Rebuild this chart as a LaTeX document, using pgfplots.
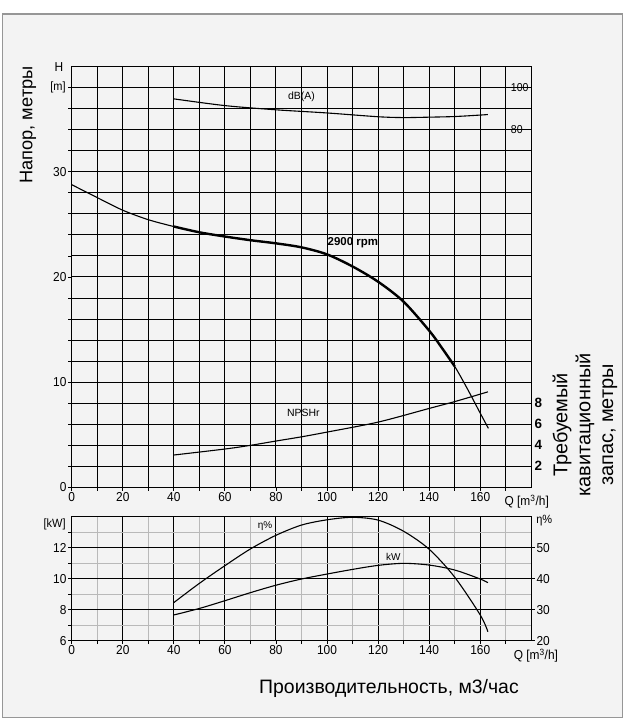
\documentclass[border=0pt]{standalone}
\usepackage{fontspec}
\setmainfont{Liberation Sans}
\newfontfamily\tickfont[FakeStretch=0.92]{Liberation Sans}
\usepackage{pgfplots}
\pgfplotsset{compat=1.18}
\definecolor{bgc}{RGB}{243,243,243}
\definecolor{framec}{RGB}{150,150,150}
\pgfplotsset{
  base/.style={scale only axis, anchor=south west, xmin=0, xmax=180,
    tick align=outside, major tick length=3.5bp, minor tick length=3.5bp,
    every tick/.style={black, line width=0.9bp},
    /pgf/number format/assume math mode=true,
    tick label style={font=\tickfont\fontsize{13}{13}\selectfont, inner sep=1.5bp},
    axis line style={black, line width=1bp},
  },
}
\begin{document}
\begin{tikzpicture}
\useasboundingbox (0,0) rectangle (624bp,721bp);
\fill[white] (0,0) rectangle (624bp,721bp);
\filldraw[fill=bgc, draw=framec, line width=1.2bp] (2.7bp,3.3bp) rectangle (622.7bp,707bp);

% ---------------- upper: head ----------------
\begin{axis}[base, at={(71.7bp,233.7bp)}, width=459.6bp, height=420.6bp,
  ymin=0, ymax=40,
  xtick={0,20,...,160}, minor xtick={10,30,...,170},
  ytick={0,10,20,30}, minor ytick={2,4,...,38},
  grid=both,
  major grid style={black, line width=1bp},
  minor grid style={black, line width=1bp},
  ytick pos=left, xtick pos=bottom, clip=false]
\addplot[black, line width=1.1bp, smooth] coordinates {
 (0,28.78) (10,27.55) (20,26.35) (30,25.45) (40,24.8) (50,24.25) (60,23.85)
 (70,23.5) (80,23.2) (90,22.82) (100,22.15) (110,21.0) (120,19.55)
 (130,17.65) (140,14.9) (145,13.25) (150,11.5) (155,9.35) (160,7.05) (163.2,5.6)};
\addplot[black, line width=2.4bp, smooth] coordinates {
 (40,24.8) (50,24.25) (60,23.85) (70,23.5) (80,23.2) (90,22.82) (100,22.15)
 (110,21.0) (120,19.55) (130,17.65) (140,14.9) (145,13.25) (150,11.5)};
\node[font=\fontsize{10.5}{11}\selectfont] at (axis cs:90,37.1) {dB(A)};
\node[font=\bfseries\fontsize{11.5}{12}\selectfont] at (axis cs:110.1,23.3) {2900 rpm};
\node[font=\fontsize{10.5}{11}\selectfont] at (axis cs:90.7,7.03) {NPSHr};
\node[anchor=east, xshift=-5bp, font=\tickfont\fontsize{13}{13}\selectfont] at (rel axis cs:0,1) {H};
\node[anchor=east, xshift=-2.5bp, font=\tickfont\fontsize{12}{12}\selectfont] at (rel axis cs:0,0.95) {[m]};
\node[anchor=north, yshift=-4.5bp, font=\tickfont\fontsize{13}{13}\selectfont] at (rel axis cs:0.99,0) {Q [m\textsuperscript{3}/h]};
\end{axis}

% ---------------- dB(A) scale ----------------
\begin{axis}[base, at={(71.7bp,233.7bp)}, width=434.07bp, height=420.6bp,
  xmin=0, xmax=170, ymin=-90, ymax=110,
  hide x axis, axis y line*=right, axis line style={draw=none},
  ytick={80,90,100}, yticklabels={80,,100},
  tick label style={font=\tickfont\fontsize{11.5}{12}\selectfont}]
\addplot[black, line width=1.1bp, smooth] coordinates {
 (40,94.7) (60,91.5) (80,89.5) (100,88) (120,86.2) (130,85.8) (140,86)
 (150,86.3) (160,87) (163,87.25)};
\end{axis}

% ---------------- NPSHr scale ----------------
\begin{axis}[base, at={(71.7bp,233.7bp)}, width=459.6bp, height=420.6bp,
  ymin=0, ymax=40,
  hide x axis, axis y line*=right, axis line style={draw=none},
  ytick={2,4,6,8}, major tick length=0pt,
  tick label style={font=\bfseries\fontsize{13.5}{14}\selectfont, inner sep=3bp}]
\addplot[black, line width=1.1bp, smooth] coordinates {
 (40,3.07) (60,3.64) (70,3.99) (80,4.4) (90,4.8) (100,5.25) (120,6.2)
 (140,7.5) (150,8.15) (160,8.86) (163,9.08)};
\end{axis}

% ---------------- lower: kW ----------------
\begin{axis}[base, at={(71.7bp,80.3bp)}, width=459.6bp, height=124bp,
  ymin=6, ymax=14,
  xtick={0,20,...,160}, minor xtick={10,30,...,170},
  ytick={6,8,10,12}, minor ytick={7,9,11,13},
  grid=both,
  major grid style={black, line width=1bp},
  minor grid style={gray!55, line width=1.1bp},
  ytick pos=left, xtick pos=bottom, clip=false]
\addplot[black, line width=1.1bp, smooth] coordinates {
 (40,7.66) (50,8.08) (60,8.58) (70,9.1) (80,9.58) (90,9.98) (100,10.3)
 (110,10.6) (120,10.86) (130,10.99) (140,10.88) (150,10.56) (160,9.98) (163,9.74)};
\node[font=\fontsize{10}{11}\selectfont] at (axis cs:75.7,13.4) {η\%};
\node[font=\fontsize{10}{11}\selectfont] at (axis cs:126,11.42) {kW};
\node[anchor=east, xshift=-2.5bp, font=\tickfont\fontsize{12}{12}\selectfont] at (rel axis cs:0,0.94) {[kW]};
\node[anchor=north, yshift=-4.5bp, font=\tickfont\fontsize{13}{13}\selectfont] at (rel axis cs:1.01,0) {Q [m\textsuperscript{3}/h]};
\end{axis}

% ---------------- efficiency scale ----------------
\begin{axis}[base, at={(71.7bp,80.3bp)}, width=459.6bp, height=124bp,
  ymin=20, ymax=60,
  hide x axis, axis y line*=right, axis line style={draw=none},
  ytick={20,30,40,50}, clip=false]
\addplot[black, line width=1.1bp, smooth] coordinates {
 (40,32.3) (50,38.5) (60,44.2) (70,49.6) (80,54.0) (90,57.3) (100,59.0)
 (110,59.8) (120,58.9) (130,55.3) (140,49.5) (150,40.5) (160,28.3) (163,22.9)};
\node[anchor=west, xshift=1.5bp, font=\tickfont\fontsize{12}{12}\selectfont] at (rel axis cs:1,0.97) {η\%};
\end{axis}

% ---------------- titles ----------------
\node[rotate=90, font=\fontsize{18.3}{20}\selectfont] at (28bp,596bp) {Напор, метры};
\node[rotate=90, align=center, font=\fontsize{20}{23}\selectfont] at (585bp,296bp) {Требуемый\\кавитационный\\запас, метры};
\node[font=\fontsize{19.5}{21}\selectfont] at (389bp,33bp) {Производительность, м3/час};
\end{tikzpicture}
\end{document}
